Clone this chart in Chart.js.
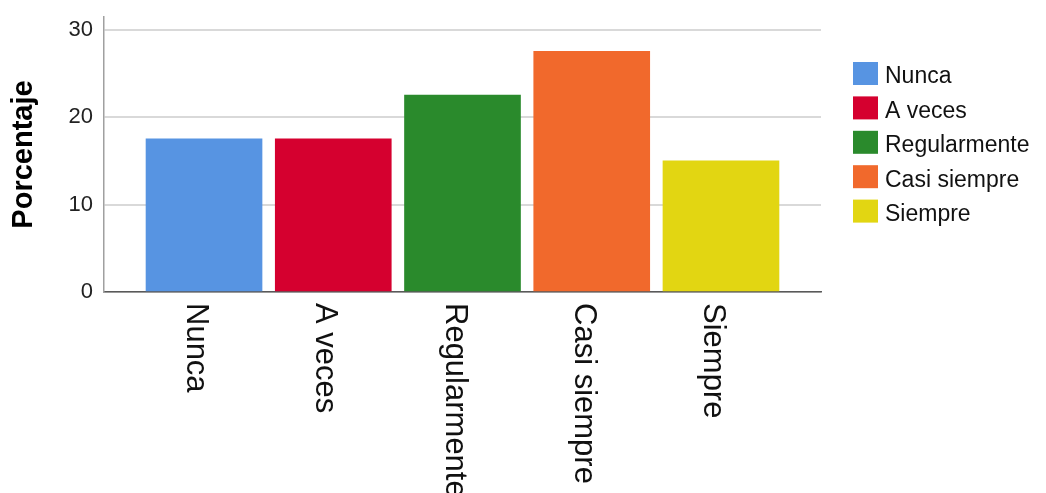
<!DOCTYPE html>
<html lang="es">
<head>
    <meta charset="UTF-8">
    <title>Porcentaje por frecuencia</title>
    <script src="https://cdn.jsdelivr.net/npm/chart.js"></script>
    <style>
        html, body { margin: 0; padding: 0; background: #fff; }
        #wrap { width: 1046px; height: 493px; }
    </style>
</head>
<body>
    <div id="wrap"><canvas id="chartCanvas" width="1046" height="493"></canvas></div>

    <script>
        const categories = ['Nunca', 'A veces', 'Regularmente', 'Casi siempre', 'Siempre'];
        const percentages = [17.5, 17.5, 22.5, 27.5, 15.0];
        const barColors = ['#5794e2', '#d5002f', '#2a8a2c', '#f1692c', '#e2d612'];
        const yTicks = [0, 10, 20, 30];

        const FONT = '"Liberation Sans", Arial, sans-serif';

        // category names under each bar, rotated to read downwards
        const categoryLabels = {
            id: 'categoryLabels',
            afterDraw(chart) {
                const ctx = chart.ctx;
                const xs = chart.scales.x;
                ctx.save();
                ctx.font = '31px ' + FONT;
                ctx.fillStyle = '#111';
                ctx.textAlign = 'left';
                ctx.textBaseline = 'alphabetic';
                categories.forEach((name, i) => {
                    const x = xs.getPixelForValue(i) - 17;
                    ctx.save();
                    ctx.translate(x, chart.chartArea.bottom + 11);
                    ctx.rotate(Math.PI / 2);
                    ctx.fillText(name, 0, 0);
                    ctx.restore();
                });
                ctx.restore();
            }
        };

        // legend box on the right
        const sideLegend = {
            id: 'sideLegend',
            afterDraw(chart) {
                const ctx = chart.ctx;
                ctx.save();
                ctx.font = '23px ' + FONT;
                ctx.textBaseline = 'middle';
                ctx.textAlign = 'left';
                categories.forEach((name, i) => {
                    const top = 62 + i * 34.4;
                    ctx.fillStyle = barColors[i];
                    ctx.fillRect(853, top, 25, 23);
                    ctx.fillStyle = '#111';
                    ctx.fillText(name, 885, top + 15);
                });
                ctx.restore();
            }
        };

        const ctx = document.getElementById('chartCanvas').getContext('2d');
        new Chart(ctx, {
            type: 'bar',
            data: {
                datasets: [{
                    data: percentages.map((v, i) => ({ x: i, y: v })),
                    backgroundColor: barColors,
                    borderWidth: 0,
                    barThickness: 116
                }]
            },
            options: {
                responsive: false,
                animation: false,
                devicePixelRatio: 1,
                layout: { padding: { top: 17, right: 225, left: 0, bottom: 0 } },
                plugins: {
                    legend: { display: false },
                    tooltip: { enabled: false }
                },
                scales: {
                    x: {
                        type: 'linear',
                        offset: false,
                        min: -0.774,
                        max: 4.774,
                        grid: { display: false, drawTicks: false },
                        border: { display: true, color: '#5a5a5a', width: 1.5 },
                        ticks: { display: false },
                        afterFit(scale) {
                            scale.height = 201;
                            scale.paddingLeft = scale.paddingRight = 0;
                        }
                    },
                    y: {
                        min: 0,
                        max: 31.43,
                        afterBuildTicks(scale) {
                            scale.ticks = yTicks.map(v => ({ value: v }));
                        },
                        grid: { color: '#d9d9d9', lineWidth: 2, drawTicks: false },
                        border: { display: true, color: '#a0a0a0', width: 1.5 },
                        ticks: {
                            padding: 11,
                            color: '#222',
                            font: { family: FONT, size: 22 }
                        },
                        title: {
                            display: true,
                            text: 'Porcentaje',
                            color: '#000',
                            font: { family: FONT, size: 29, weight: 'bold', lineHeight: 1.2 },
                            padding: { top: 7, bottom: 0 }
                        },
                        afterFit(scale) {
                            scale.width = 104;
                            scale.paddingTop = scale.paddingBottom = 0;
                        }
                    }
                }
            },
            plugins: [categoryLabels, sideLegend]
        });
    </script>
</body>
</html>
